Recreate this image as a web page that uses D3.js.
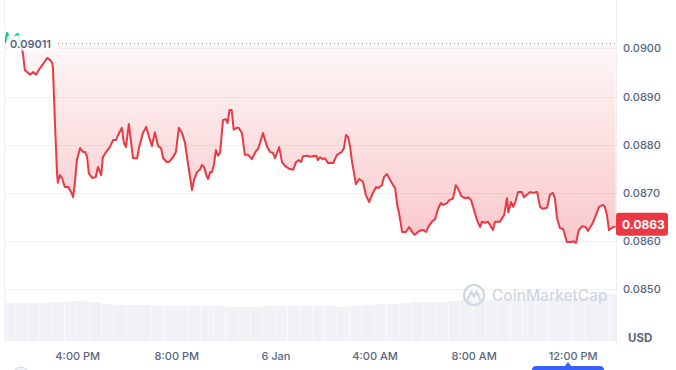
<!DOCTYPE html>
<html><head><meta charset="utf-8">
<script src="https://cdn.jsdelivr.net/npm/d3@7"></script>
<style>
html,body{margin:0;padding:0;background:#fff;}
svg{display:block;font-family:Inter,"Noto Sans",sans-serif;}
</style></head>
<body><svg id="c" width="676" height="370"></svg>
<script>
// ---------- data ----------
const openPrice = 0.09011;
const lastPrice = 0.0863;
const times = [
"2025-01-05 13:05","2025-01-05 13:10","2025-01-05 13:15","2025-01-05 13:22","2025-01-05 13:29","2025-01-05 13:36","2025-01-05 13:44","2025-01-05 13:49","2025-01-05 13:53","2025-01-05 14:06",
"2025-01-05 14:13","2025-01-05 14:20","2025-01-05 14:30","2025-01-05 14:37","2025-01-05 14:47","2025-01-05 14:54","2025-01-05 14:59","2025-01-05 15:01","2025-01-05 15:06","2025-01-05 15:11",
"2025-01-05 15:13","2025-01-05 15:18","2025-01-05 15:23","2025-01-05 15:30","2025-01-05 15:38","2025-01-05 15:45","2025-01-05 15:50","2025-01-05 15:55","2025-01-05 15:59","2025-01-05 16:07",
"2025-01-05 16:14","2025-01-05 16:19","2025-01-05 16:24","2025-01-05 16:28","2025-01-05 16:36","2025-01-05 16:45","2025-01-05 16:50","2025-01-05 16:58","2025-01-05 17:02","2025-01-05 17:10",
"2025-01-05 17:19","2025-01-05 17:27","2025-01-05 17:34","2025-01-05 17:39","2025-01-05 17:48","2025-01-05 17:53","2025-01-05 17:58","2025-01-05 18:05","2025-01-05 18:15","2025-01-05 18:25",
"2025-01-05 18:30","2025-01-05 18:39","2025-01-05 18:47","2025-01-05 18:54","2025-01-05 19:01","2025-01-05 19:08","2025-01-05 19:16","2025-01-05 19:23","2025-01-05 19:28","2025-01-05 19:37",
"2025-01-05 19:42","2025-01-05 19:52","2025-01-05 19:59","2025-01-05 20:06","2025-01-05 20:14","2025-01-05 20:21","2025-01-05 20:28","2025-01-05 20:38","2025-01-05 20:43","2025-01-05 20:50",
"2025-01-05 20:57","2025-01-05 21:02","2025-01-05 21:07","2025-01-05 21:14","2025-01-05 21:17","2025-01-05 21:22","2025-01-05 21:26","2025-01-05 21:31","2025-01-05 21:36","2025-01-05 21:41",
"2025-01-05 21:46","2025-01-05 21:53","2025-01-05 22:00","2025-01-05 22:04","2025-01-05 22:09","2025-01-05 22:14","2025-01-05 22:19","2025-01-05 22:26","2025-01-05 22:31","2025-01-05 22:39",
"2025-01-05 22:46","2025-01-05 22:54","2025-01-05 23:03","2025-01-05 23:13","2025-01-05 23:18","2025-01-05 23:30","2025-01-05 23:40","2025-01-05 23:47","2025-01-05 23:54","2025-01-05 23:59",
"2025-01-06 00:04","2025-01-06 00:09","2025-01-06 00:16","2025-01-06 00:23","2025-01-06 00:33","2025-01-06 00:43","2025-01-06 00:50","2025-01-06 00:57","2025-01-06 01:02","2025-01-06 01:07",
"2025-01-06 01:17","2025-01-06 01:24","2025-01-06 01:39","2025-01-06 01:43","2025-01-06 01:48","2025-01-06 01:55","2025-01-06 02:00","2025-01-06 02:07","2025-01-06 02:20","2025-01-06 02:29",
"2025-01-06 02:41","2025-01-06 02:46","2025-01-06 02:51","2025-01-06 02:56","2025-01-06 03:01","2025-01-06 03:06","2025-01-06 03:10","2025-01-06 03:15","2025-01-06 03:23","2025-01-06 03:32",
"2025-01-06 03:39","2025-01-06 03:47","2025-01-06 03:56","2025-01-06 04:04","2025-01-06 04:09","2025-01-06 04:18","2025-01-06 04:23","2025-01-06 04:30","2025-01-06 04:38","2025-01-06 04:45",
"2025-01-06 04:50","2025-01-06 04:55","2025-01-06 04:59","2025-01-06 05:07","2025-01-06 05:16","2025-01-06 05:24","2025-01-06 05:33","2025-01-06 05:38","2025-01-06 05:48","2025-01-06 05:58",
"2025-01-06 06:05","2025-01-06 06:10","2025-01-06 06:19","2025-01-06 06:27","2025-01-06 06:34","2025-01-06 06:41","2025-01-06 06:46","2025-01-06 06:56","2025-01-06 07:01","2025-01-06 07:10",
"2025-01-06 07:17","2025-01-06 07:22","2025-01-06 07:30","2025-01-06 07:34","2025-01-06 07:42","2025-01-06 07:47","2025-01-06 07:54","2025-01-06 08:01","2025-01-06 08:08","2025-01-06 08:16",
"2025-01-06 08:20","2025-01-06 08:28","2025-01-06 08:35","2025-01-06 08:47","2025-01-06 08:52","2025-01-06 09:04","2025-01-06 09:14","2025-01-06 09:21","2025-01-06 09:24","2025-01-06 09:31",
"2025-01-06 09:36","2025-01-06 09:41","2025-01-06 09:48","2025-01-06 09:57","2025-01-06 10:02","2025-01-06 10:17","2025-01-06 10:24","2025-01-06 10:34","2025-01-06 10:41","2025-01-06 10:48",
"2025-01-06 10:58","2025-01-06 11:05","2025-01-06 11:12","2025-01-06 11:17","2025-01-06 11:22","2025-01-06 11:29","2025-01-06 11:37","2025-01-06 11:46","2025-01-06 11:56","2025-01-06 12:01",
"2025-01-06 12:08","2025-01-06 12:15","2025-01-06 12:23","2025-01-06 12:32","2025-01-06 12:37","2025-01-06 12:47","2025-01-06 12:54","2025-01-06 13:04","2025-01-06 13:14","2025-01-06 13:18",
"2025-01-06 13:23","2025-01-06 13:28","2025-01-06 13:38","2025-01-06 13:44"
];
const prices = [
0.09011,0.09032,0.09023,0.09017,0.09026,0.09030,0.09009,0.08986,0.08955,0.08945,
0.08951,0.08945,0.08959,0.08967,0.08980,0.08976,0.08970,0.08961,0.08845,0.08741,
0.08721,0.08737,0.08731,0.08712,0.08712,0.08702,0.08691,0.08727,0.08768,0.08793,
0.08785,0.08785,0.08774,0.08741,0.08731,0.08733,0.08754,0.08737,0.08774,0.08785,
0.08795,0.08810,0.08810,0.08820,0.08835,0.08804,0.08795,0.08843,0.08772,0.08772,
0.08795,0.08824,0.08837,0.08816,0.08797,0.08826,0.08797,0.08793,0.08772,0.08764,
0.08764,0.08774,0.08785,0.08835,0.08824,0.08804,0.08762,0.08706,0.08727,0.08743,
0.08748,0.08758,0.08754,0.08733,0.08729,0.08743,0.08743,0.08758,0.08789,0.08777,
0.08783,0.08851,0.08853,0.08845,0.08872,0.08872,0.08831,0.08835,0.08835,0.08824,
0.08779,0.08779,0.08770,0.08787,0.08791,0.08824,0.08795,0.08785,0.08783,0.08772,
0.08783,0.08795,0.08764,0.08756,0.08750,0.08748,0.08764,0.08768,0.08764,0.08776,
0.08777,0.08775,0.08777,0.08768,0.08774,0.08770,0.08772,0.08762,0.08762,0.08779,
0.08785,0.08793,0.08820,0.08816,0.08795,0.08762,0.08743,0.08718,0.08729,0.08723,
0.08696,0.08681,0.08700,0.08712,0.08710,0.08716,0.08733,0.08739,0.08727,0.08716,
0.08710,0.08675,0.08660,0.08619,0.08619,0.08629,0.08617,0.08613,0.08621,0.08623,
0.08619,0.08629,0.08640,0.08646,0.08667,0.08679,0.08675,0.08679,0.08685,0.08688,
0.08716,0.08710,0.08694,0.08691,0.08689,0.08691,0.08685,0.08665,0.08644,0.08629,
0.08640,0.08638,0.08640,0.08623,0.08640,0.08640,0.08654,0.08689,0.08660,0.08681,
0.08671,0.08681,0.08702,0.08702,0.08691,0.08702,0.08700,0.08702,0.08671,0.08667,
0.08669,0.08696,0.08700,0.08689,0.08648,0.08627,0.08625,0.08598,0.08598,0.08600,
0.08596,0.08623,0.08631,0.08629,0.08621,0.08635,0.08648,0.08671,0.08675,0.08671,
0.08654,0.08623,0.08629,0.08630
];
// volume, 30-minute bins starting 13:00 on 5 Jan (relative units)
const volumeStart = "2025-01-05 13:00";
const volumes = [38,38,38,38,39,40,40,39,37,36,36,36,35,35,35,35,35,35,34,34,34,35,35,35,35,35,35,34,35,36,37,37,38,39,39,39,40,41,41,41,41,42,42,43,43,43,43,44,46,47];
const yTicks = [0.0850,0.0860,0.0870,0.0880,0.0890,0.0900];
const xTicks = ["2025-01-05 16:00","2025-01-05 20:00","2025-01-06 00:00","2025-01-06 04:00","2025-01-06 08:00","2025-01-06 12:00"];
const axisUnit = "USD";
const watermark = "CoinMarketCap";

// ---------- setup ----------
const parse = d3.timeParse("%Y-%m-%d %H:%M");
const data = times.map((t,i)=>({t:parse(t), v:prices[i]}));
const svg = d3.select("#c");
const L = 5, R = 616, T = 0, B = 342;
const x = d3.scaleTime().domain([parse("2025-01-05 13:05"), parse("2025-01-06 13:45")]).range([L, R]);
const y = d3.scaleLinear().domain([0.0850, 0.0900]).range([289.3, 48.3]);
const yv = d3.scaleLinear().domain([0, 100]).range([341, 241]);
const RED = "#ea3943", GREEN = "#16c784", TXT = "#58667e";

const defs = svg.append("defs");
defs.append("clipPath").attr("id","plot").append("rect").attr("x",L).attr("y",T).attr("width",R-L).attr("height",B-T);
defs.append("clipPath").attr("id","below").append("rect").attr("x",L).attr("y",y(openPrice)).attr("width",R-L).attr("height",B);
defs.append("clipPath").attr("id","above").append("rect").attr("x",L).attr("y",0).attr("width",R-L).attr("height",y(openPrice));
const gr = defs.append("linearGradient").attr("id","gRed").attr("gradientUnits","userSpaceOnUse")
  .attr("x1",0).attr("x2",0).attr("y1",y(openPrice)).attr("y2",y(0.0859));
gr.append("stop").attr("offset",0).attr("stop-color",RED).attr("stop-opacity",0.04);
gr.append("stop").attr("offset",1).attr("stop-color",RED).attr("stop-opacity",0.28);
const gg = defs.append("linearGradient").attr("id","gGreen").attr("gradientUnits","userSpaceOnUse")
  .attr("x1",0).attr("x2",0).attr("y1",y(0.0904)).attr("y2",y(openPrice));
gg.append("stop").attr("offset",0).attr("stop-color",GREEN).attr("stop-opacity",0.25);
gg.append("stop").attr("offset",1).attr("stop-color",GREEN).attr("stop-opacity",0.04);

// gridlines
svg.append("g").selectAll("line").data(yTicks).join("line")
  .attr("x1",L).attr("x2",R).attr("y1",d=>Math.round(y(d))+0.5).attr("y2",d=>Math.round(y(d))+0.5)
  .attr("stroke","#eff2f5").attr("stroke-width",1);

// frame lines
svg.append("line").attr("x1",L-0.5).attr("x2",L-0.5).attr("y1",0).attr("y2",B).attr("stroke","#eff2f5");
svg.append("line").attr("x1",R+0.5).attr("x2",R+0.5).attr("y1",0).attr("y2",B+4).attr("stroke","#eff2f5");

// volume bars
const v0 = parse(volumeStart);
const binMs = 30*60*1000;
svg.append("g").attr("clip-path","url(#plot)").selectAll("rect").data(volumes).join("rect")
  .attr("x",(d,i)=>x(new Date(+v0+i*binMs)))
  .attr("width",(d,i)=>x(new Date(+v0+(i+1)*binMs))-x(new Date(+v0+i*binMs))-0.6)
  .attr("y",d=>yv(d)).attr("height",d=>yv(0)-yv(d))
  .attr("fill","#f0f2f6");

// watermark
const wm = svg.append("g").attr("transform","translate(463,284)");
wm.append("circle").attr("cx",11).attr("cy",11).attr("r",10).attr("fill","none").attr("stroke","#cfd6e4").attr("stroke-width",2.2);
wm.append("path").attr("d","M5,15 L8.5,7.5 L11,13 L13.5,7.5 L17,15").attr("fill","none").attr("stroke","#cfd6e4").attr("stroke-width",2.2).attr("stroke-linejoin","round").attr("stroke-linecap","round");
wm.append("text").attr("x",29).attr("y",16.5).attr("font-size",15.5).attr("font-weight",500)
  .attr("fill","#cfd6e4").text(watermark);

// area fills
const area = d3.area().x(d=>x(d.t)).y0(y(openPrice)).y1(d=>y(d.v));
svg.append("path").datum(data).attr("d",area).attr("fill","url(#gRed)").attr("clip-path","url(#below)");
svg.append("path").datum(data).attr("d",area).attr("fill","url(#gGreen)").attr("clip-path","url(#above)");

// lines
const line = d3.line().x(d=>x(d.t)).y(d=>y(d.v));
svg.append("path").datum(data).attr("d",line).attr("fill","none").attr("stroke",RED).attr("stroke-width",2)
  .attr("stroke-linejoin","round").attr("clip-path","url(#below)");
svg.append("path").datum(data).attr("d",line).attr("fill","none").attr("stroke",GREEN).attr("stroke-width",2)
  .attr("stroke-linejoin","round").attr("clip-path","url(#above)");

// open price dotted line + label
const oy = Math.round(y(openPrice))+0.5;
svg.append("line").attr("x1",58).attr("x2",R).attr("y1",oy).attr("y2",oy)
  .attr("stroke","#8a94a6").attr("stroke-width",1).attr("stroke-dasharray","1,3");
svg.append("rect").attr("x",8).attr("y",oy-8).attr("width",50).attr("height",15).attr("fill","#fff").attr("fill-opacity",0.85);
svg.append("text").attr("x",10).attr("y",oy+4).attr("font-size",11).attr("font-weight",600).attr("fill",TXT)
  .text(d3.format(".5f")(openPrice));

// y axis (right)
const ya = svg.append("g").attr("transform",`translate(${R},0)`)
  .call(d3.axisRight(y).tickValues(yTicks).tickFormat(d3.format(".4f")).tickSize(0).tickPadding(7));
ya.select(".domain").remove();
ya.selectAll("text").attr("font-size",11).attr("font-weight",500).attr("fill",TXT).attr("font-family","Inter, sans-serif");
svg.append("text").attr("x",628).attr("y",342).attr("font-size",11.5).attr("font-weight",700).attr("fill",TXT).text(axisUnit);

// x axis
const xfmt = d=> (d.getHours()===0 ? d3.timeFormat("%-d %b")(d) : d3.timeFormat("%-I:%M %p")(d));
const xa = svg.append("g").attr("transform",`translate(0,${B})`)
  .call(d3.axisBottom(x).tickValues(xTicks.map(parse)).tickFormat(xfmt).tickSize(0).tickPadding(10));
xa.select(".domain").remove();
xa.selectAll("text").attr("font-size",11).attr("font-weight",500).attr("fill",TXT).attr("font-family","Inter, sans-serif");

// last price tag
const ly = y(lastPrice);
svg.append("rect").attr("x",R).attr("y",ly-14).attr("width",52).attr("height",23).attr("rx",3).attr("fill",RED);
svg.append("text").attr("x",R+6).attr("y",ly+2).attr("font-size",12).attr("font-weight",700).attr("fill","#fff")
  .text(d3.format(".4f")(lastPrice));

// partial controls at bottom
svg.append("circle").attr("cx",21).attr("cy",375).attr("r",8).attr("fill","#eff2f5").attr("stroke","#cfd6e4");
svg.append("rect").attr("x",532).attr("y",366).attr("width",72).attr("height",10).attr("rx",4).attr("fill","#3861fb");
svg.append("path").attr("d","M564,367 L568,362 L572,367 Z").attr("fill","#3861fb");
</script></body></html>
